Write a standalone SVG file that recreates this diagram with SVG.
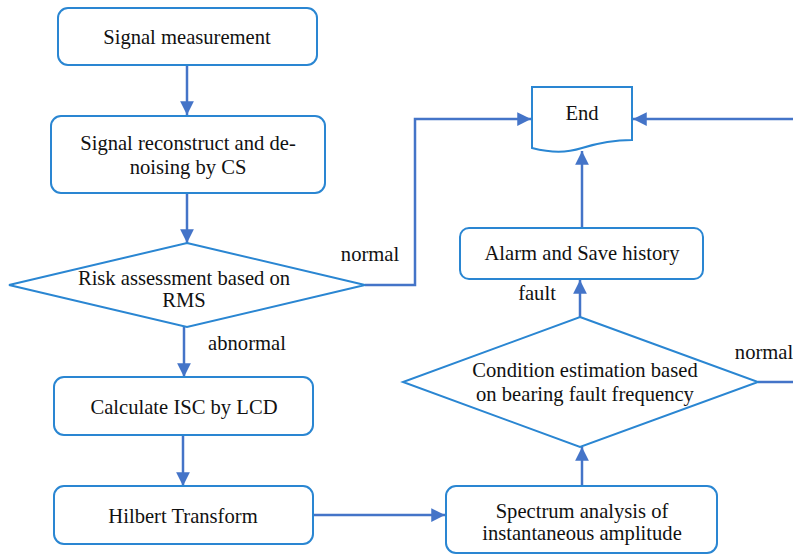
<svg xmlns="http://www.w3.org/2000/svg" width="793" height="556" viewBox="0 0 793 556">
<defs>
<style>
.box{fill:#fff;stroke:#2a86d2;stroke-width:2}
.t{font-family:'Liberation Serif','DejaVu Serif',serif;font-size:20.6px;fill:#111;text-anchor:middle}
.c{fill:none;stroke:#4474c8;stroke-width:2.5}
</style>
<marker id="ah" viewBox="0 0 10 10" refX="10" refY="5" markerWidth="5.5" markerHeight="5.5" markerUnits="strokeWidth" orient="auto">
<path d="M0,0 L10,5 L0,10 Z" fill="#4474c8"/>
</marker>
</defs>
<rect width="793" height="556" fill="#fff"/>
<g id="connectors">
<path class="c" d="M187,66 V115" marker-end="url(#ah)"/>
<path class="c" d="M187,193 V243" marker-end="url(#ah)"/>
<path class="c" d="M365,285 H415 V119 H531" marker-end="url(#ah)"/>
<path class="c" d="M184,327 V377" marker-end="url(#ah)"/>
<path class="c" d="M183,435 V486" marker-end="url(#ah)"/>
<path class="c" d="M313,515 H445" marker-end="url(#ah)"/>
<path class="c" d="M582,486 V447" marker-end="url(#ah)"/>
<path class="c" d="M580,317 V280" marker-end="url(#ah)"/>
<path class="c" d="M582,228 V151" marker-end="url(#ah)"/>
<path class="c" d="M758,382 H796 V119 H633" marker-end="url(#ah)"/>
<text class="t" x="370" y="261">normal</text>
<text class="t" x="247" y="350">abnormal</text>
<text class="t" x="537" y="300">fault</text>
<text class="t" x="764" y="359">normal</text>
</g>
<g id="n1">
<rect class="box" x="58" y="8" width="259" height="57" rx="10"/>
<text class="t" x="187" y="44">Signal measurement</text>
</g>
<g id="n2">
<rect class="box" x="51" y="116" width="274" height="77" rx="10"/>
<text class="t" x="188" y="150">Signal reconstruct and de-</text>
<text class="t" x="188" y="174">noising by CS</text>
</g>
<g id="n3">
<polygon class="box" points="187,243 365,285 187,327 9,285"/>
<text class="t" x="184" y="285">Risk assessment based on</text>
<text class="t" x="184" y="307">RMS</text>
</g>
<g id="n4">
<rect class="box" x="54" y="377" width="259" height="58" rx="10"/>
<text class="t" x="184" y="414">Calculate ISC by LCD</text>
</g>
<g id="n5">
<rect class="box" x="54" y="486" width="259" height="58" rx="10"/>
<text class="t" x="183" y="523">Hilbert Transform</text>
</g>
<g id="n6">
<rect class="box" x="446" y="486" width="271" height="67" rx="10"/>
<text class="t" x="582" y="518">Spectrum analysis of</text>
<text class="t" x="582" y="540">instantaneous amplitude</text>
</g>
<g id="n7">
<polygon class="box" points="580,317 758,382 580,447 403,382"/>
<text class="t" x="585" y="377">Condition estimation based</text>
<text class="t" x="585" y="401">on bearing fault frequency</text>
</g>
<g id="n8">
<rect class="box" x="460" y="228" width="243" height="51" rx="9"/>
<text class="t" x="582" y="260">Alarm and Save history</text>
</g>
<g id="n9">
<path class="box" d="M532,87 H632 V140 C612,140 598,143 582,148 C566,153 552,153 532,148 Z"/>
<text class="t" x="582" y="120">End</text>
</g>
</svg>
